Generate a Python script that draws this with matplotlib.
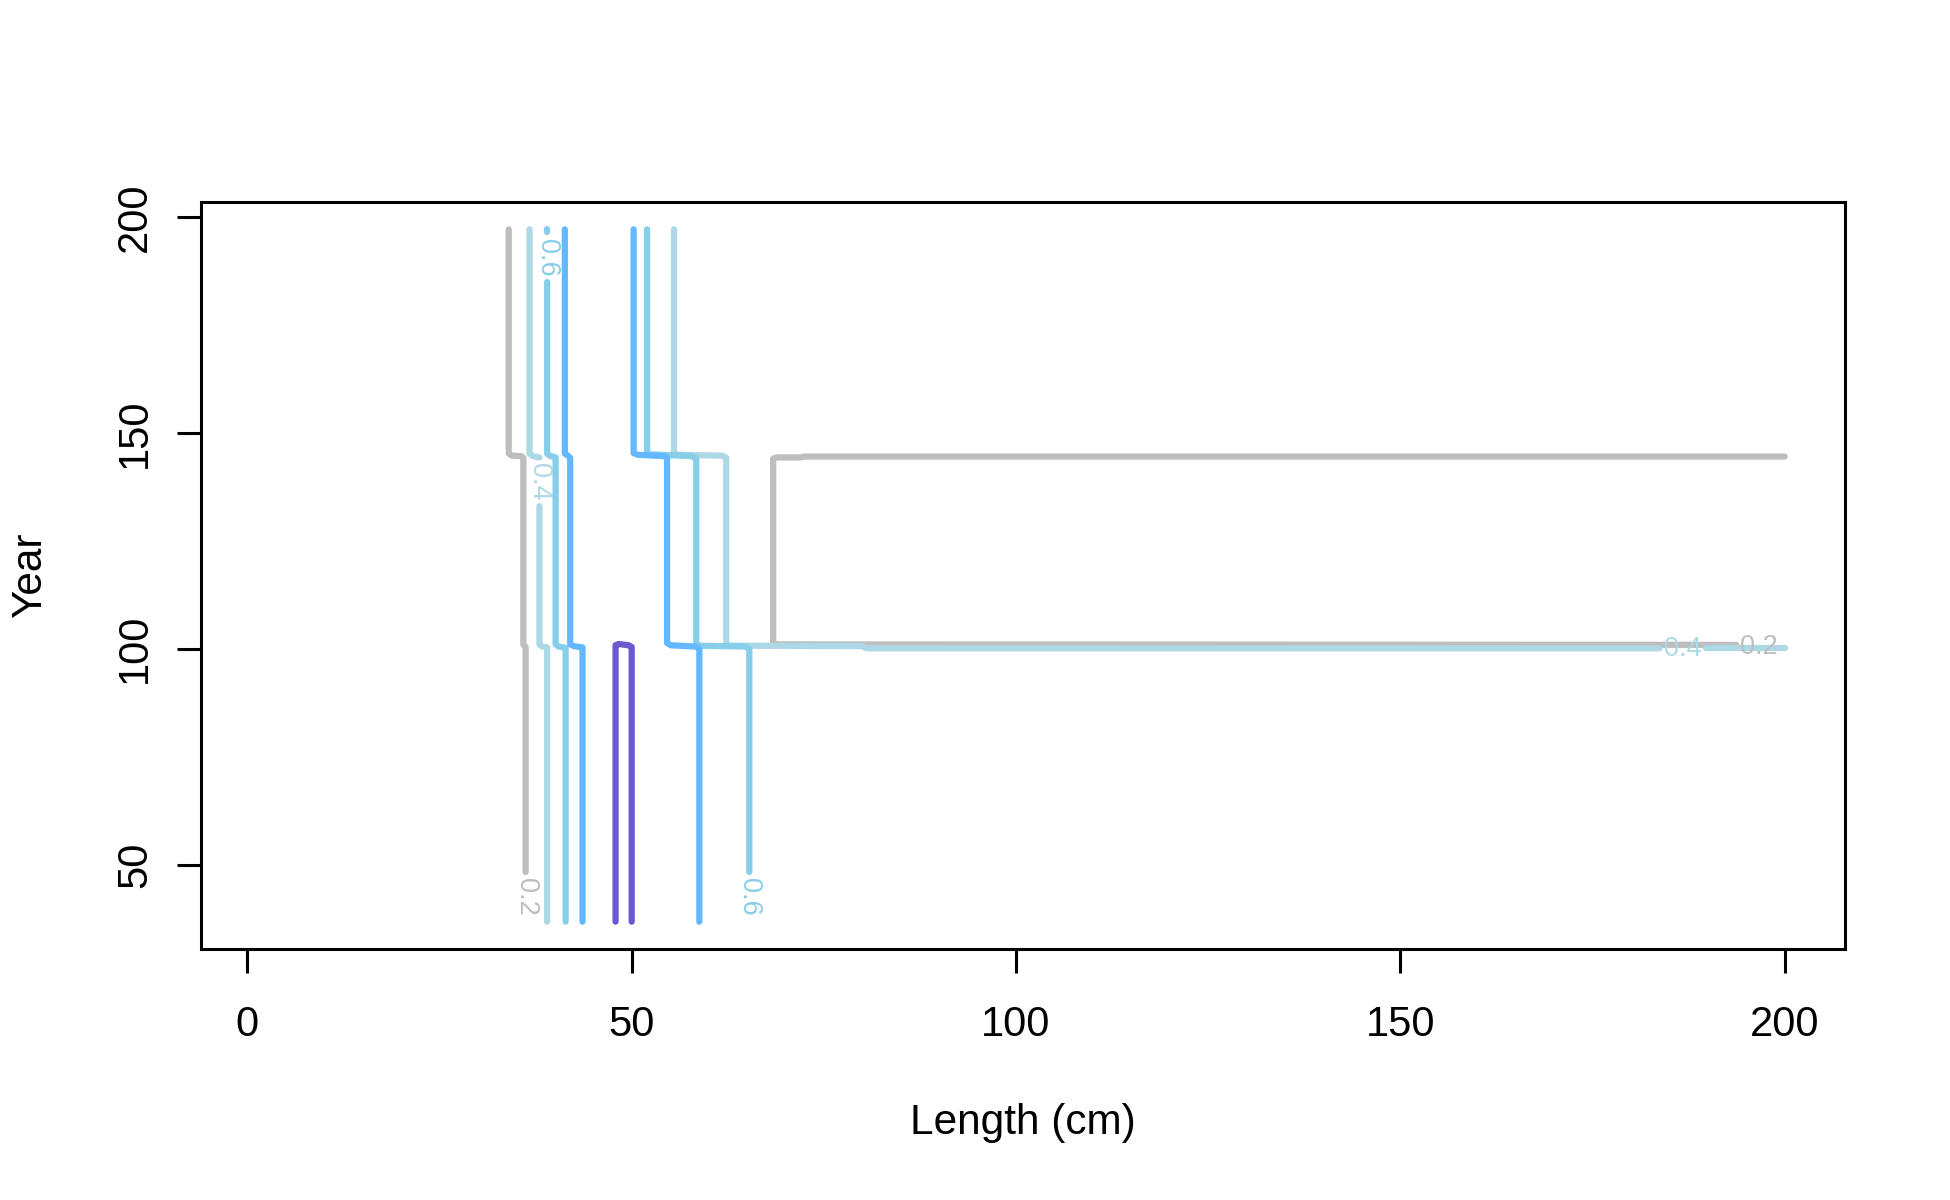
import matplotlib
matplotlib.use("Agg")
import matplotlib.pyplot as plt

plt.rcParams['font.family'] = ['Liberation Sans', 'DejaVu Sans']

# contour level colours (R: gray, lightblue, skyblue, steelblue1, slateblue)
level_cols = {0.2: '#BEBEBE', 0.4: '#ADD8E6', 0.6: '#87CEEB', 0.8: '#63B8FF', 1.0: '#6A5ACD'}

# contour pieces: (level, lengths, years)
c02_left_x = [34.0, 34.0, 34.4, 35.6, 35.9, 35.9, 36.2, 36.2]
c02_left_y = [197.1, 145.2, 144.7, 144.6, 144.2, 101.0, 100.4, 48.3]
c02_right_x = [193.7, 69.0, 68.4, 68.4, 68.9, 72.0, 72.5, 200.0]
c02_right_y = [100.9, 101.0, 101.3, 144.0, 144.3, 144.3, 144.5, 144.5]

c04_left_x1 = [36.7, 36.7, 37.1, 38.0]
c04_left_y1 = [197.1, 145.2, 144.6, 144.3]
c04_left_x2 = [38.0, 38.0, 38.4, 39.0, 39.0]
c04_left_y2 = [133.0, 101.0, 100.5, 100.3, 36.8]
c04_right_x1 = [55.5, 55.5, 56.0, 61.8, 62.3, 62.3, 62.8, 80.0, 80.5, 183.7]
c04_right_y1 = [197.1, 145.3, 144.9, 144.7, 144.2, 101.0, 100.7, 100.6, 100.1, 100.1]
c04_right_x2 = [189.8, 200.0]
c04_right_y2 = [100.1, 100.1]

c06_left_x1 = [39.0, 39.0]
c06_left_y1 = [197.1, 196.4]
c06_left_x2 = [39.0, 39.0, 39.4, 40.1, 40.1, 40.5, 41.4, 41.4]
c06_left_y2 = [184.9, 145.2, 144.6, 144.3, 101.0, 100.5, 100.2, 36.8]
c06_right_x = [52.0, 52.0, 52.5, 57.8, 58.4, 58.4, 58.9, 64.8, 65.3, 65.3]
c06_right_y = [197.1, 145.3, 145.0, 144.6, 144.0, 101.2, 100.7, 100.5, 100.0, 48.3]

c08_left_x = [41.3, 41.3, 41.7, 42.0, 42.0, 42.5, 43.6, 43.6]
c08_left_y = [197.1, 145.2, 144.7, 144.2, 101.0, 100.6, 100.3, 36.8]
c08_right_x = [50.25, 50.25, 50.8, 54.2, 54.6, 54.6, 55.1, 58.3, 58.8, 58.8]
c08_right_y = [197.1, 145.3, 144.9, 144.6, 144.1, 101.3, 100.8, 100.5, 100.0, 36.8]

c10_x = [47.9, 47.9, 48.3, 49.6, 50.0, 50.0]
c10_y = [36.8, 100.8, 101.1, 100.8, 100.4, 36.8]

pieces = [
    (0.2, c02_left_x, c02_left_y), (0.2, c02_right_x, c02_right_y),
    (0.4, c04_left_x1, c04_left_y1), (0.4, c04_left_x2, c04_left_y2),
    (0.4, c04_right_x1, c04_right_y1), (0.4, c04_right_x2, c04_right_y2),
    (0.6, c06_left_x1, c06_left_y1), (0.6, c06_left_x2, c06_left_y2),
    (0.6, c06_right_x, c06_right_y),
    (0.8, c08_left_x, c08_left_y), (0.8, c08_right_x, c08_right_y),
    (1.0, c10_x, c10_y),
]

# in-line contour labels
lab_level = [0.2, 0.2, 0.4, 0.4, 0.6, 0.6]
lab_x = [36.2, 196.6, 38.0, 186.7, 39.0, 65.3]
lab_y = [42.6, 100.4, 138.6, 99.9, 190.6, 42.6]
lab_rot = [270, 0, 270, 0, 270, 270]

fig = plt.figure(figsize=(19.5, 12), dpi=100)
ax = fig.add_axes([0.1030, 0.2089, 0.8434, 0.6230])

for lev, xs, ys in pieces:
    ax.plot(xs, ys, color=level_cols[lev], lw=4.5,
            solid_capstyle='round', solid_joinstyle='round')

for lev, x, y, r in zip(lab_level, lab_x, lab_y, lab_rot):
    ax.text(x, y, '%.1f' % lev, color=level_cols[lev], fontsize=19.5,
            rotation=r, ha='center', va='center')

ax.set_xlim(-6.05, 207.9)
ax.set_ylim(30.4, 203.5)
ax.set_xticks([0, 50, 100, 150, 200])
ax.set_yticks([50, 100, 150, 200])
ax.tick_params(length=17, width=2.2, labelsize=30, direction='out')
ax.tick_params(axis='x', pad=23)
ax.tick_params(axis='y', pad=16)
for t in ax.get_yticklabels():
    t.set_rotation(90)
    t.set_va('center')
for s in ax.spines.values():
    s.set_linewidth(2.2)

fig.text(0.5246, 1 - 1123 / 1200, 'Length (cm)', ha='center', va='center', fontsize=30.5)
fig.text(30 / 1950, 1 - 575 / 1200, 'Year', ha='center', va='center', fontsize=30.5, rotation=90)

fig.savefig('out.png', dpi=100)
